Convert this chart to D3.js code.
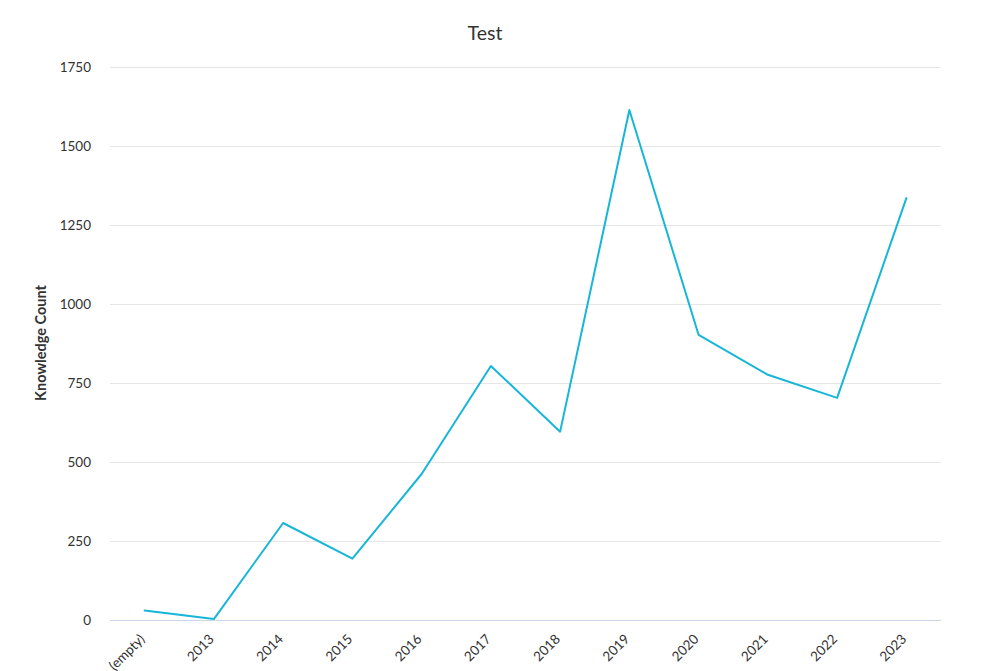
<!DOCTYPE html>
<html><head><meta charset="utf-8">
<script src="https://cdn.jsdelivr.net/npm/d3@7"></script>
<style>body{margin:0;background:#fff;} svg{display:block;font-family:Lato,"Open Sans",sans-serif;}</style>
</head><body>
<svg id="c" width="1006" height="671"></svg>
<script>
const categories = ["(empty)","2013","2014","2015","2016","2017","2018","2019","2020","2021","2022","2023"];
const values = [30, 3, 307, 194, 462, 804, 596, 1614, 902, 776, 703, 1335];
const yTicks = [0, 250, 500, 750, 1000, 1250, 1500, 1750];
const titleText = "Test";
const yLabel = "Knowledge Count";

const svg = d3.select("#c");
const L = 110, R = 941, T = 67, B = 620;
const x = d3.scaleBand().domain(categories).range([L, R]);
const y = d3.scaleLinear().domain([0, 1750]).range([B, T]);

svg.append("text").attr("x", 485).attr("y", 40).attr("text-anchor", "middle")
  .attr("font-size", 19.5).attr("fill", "#333333").text(titleText);

svg.append("g").selectAll("line").data(yTicks.filter(d => d > 0)).join("line")
  .attr("x1", L).attr("x2", R).attr("y1", d => y(d)).attr("y2", d => y(d))
  .attr("stroke", "#e6e6e6").attr("stroke-width", 1).attr("shape-rendering", "crispEdges");

svg.append("g").selectAll("text").data(yTicks).join("text")
  .attr("x", 91).attr("y", d => y(d) + 5).attr("text-anchor", "end")
  .attr("font-size", 13.5).attr("fill", "#333333").text(d => d);

svg.append("line").attr("x1", L).attr("x2", R).attr("y1", B).attr("y2", B)
  .attr("stroke", "#ccd6eb").attr("stroke-width", 1).attr("shape-rendering", "crispEdges");

svg.append("g").selectAll("text").data(categories).join("text")
  .attr("transform", d => `translate(${x(d) + x.bandwidth()/2 + 1},${B + 20}) rotate(-45)`)
  .attr("text-anchor", "end").attr("font-size", 13.5).attr("fill", "#333333").text(d => d);

svg.append("text").attr("transform", `translate(46,343) rotate(-90)`)
  .attr("text-anchor", "middle").attr("font-size", 14.5).attr("font-weight", "bold")
  .attr("fill", "#333333").text(yLabel);

const line = d3.line().x((d, i) => x(categories[i]) + x.bandwidth()/2).y(d => y(d));
svg.append("path").datum(values).attr("d", line).attr("fill", "none")
  .attr("stroke", "#17b6d9").attr("stroke-width", 2).attr("stroke-linejoin", "round").attr("stroke-linecap", "round");
</script>
</body></html>
